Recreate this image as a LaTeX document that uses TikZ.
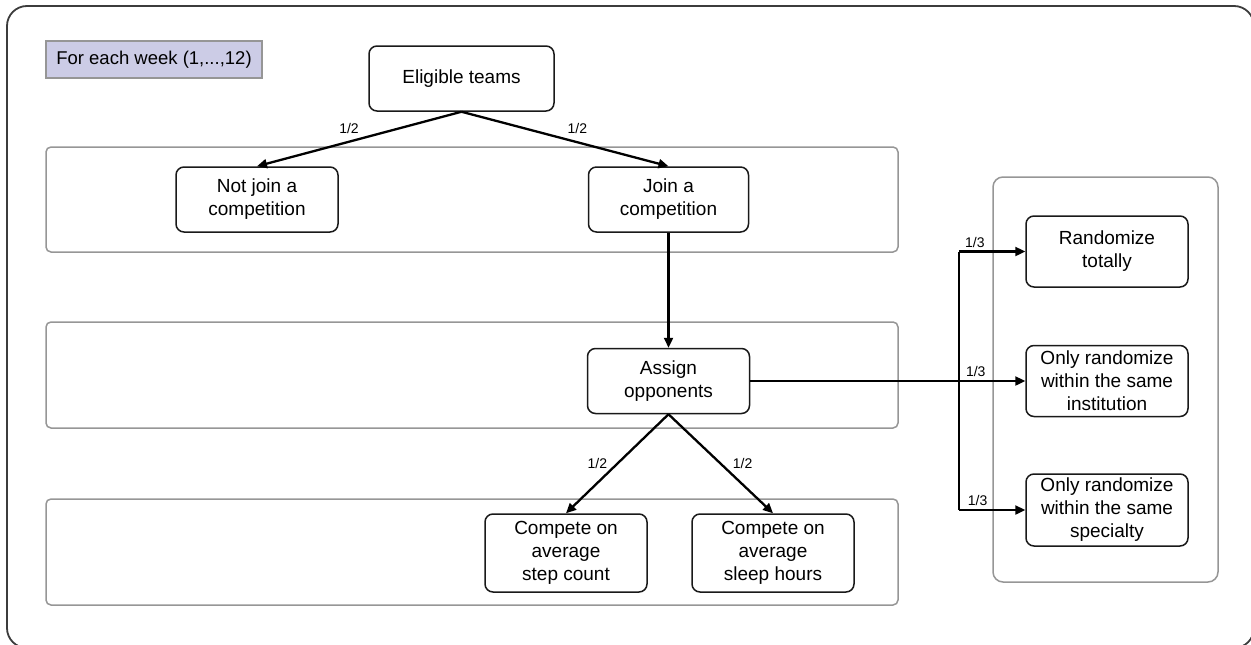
\documentclass[tikz,border=0pt]{standalone}
\usepackage{fontspec}
\setmainfont{Liberation Sans}
\usetikzlibrary{arrows.meta}
\definecolor{lanegray}{RGB}{150,150,150}
\definecolor{framegray}{RGB}{60,60,60}
\definecolor{legendfill}{RGB}{204,204,230}
\begin{document}
\begin{tikzpicture}[x=1pt,y=-1pt,
  box/.style={draw=black!90,line width=1.5pt,rounded corners=8pt,align=center,
    inner sep=0pt,font=\fontsize{19}{23}\selectfont},
  lane/.style={draw=lanegray,line width=1.5pt,rounded corners=5pt,inner sep=0pt},
  conn/.style={line width=2.3pt,-{Triangle[length=10pt,width=9pt]}},
  plainconn/.style={line width=2.3pt},
  lbl/.style={font=\fontsize{14}{16}\selectfont,inner sep=0pt}]
\useasboundingbox (0,0) rectangle (1251,645);
% outer frame
\draw[framegray,line width=1.8pt,rounded corners=20pt] (7,6) rectangle (1254,648);
% legend
\node[draw=lanegray,fill=legendfill,line width=1.3pt,minimum width=216pt,minimum height=37pt,
  inner sep=0pt,font=\fontsize{18.5}{22}\selectfont] (legend) at (154,59.5) {For each week (1,...,12)};
% lanes
\node[lane,minimum width=852pt,minimum height=105pt] (lane1) at (472,199.5) {};
\node[lane,minimum width=852pt,minimum height=106pt] (lane2) at (472,375) {};
\node[lane,minimum width=852pt,minimum height=106pt] (lane3) at (472,552) {};
\node[lane,rounded corners=10pt,minimum width=225pt,minimum height=405pt] (cont) at (1105.5,379.5) {};
% boxes
\node[box,minimum width=185pt,minimum height=65pt] (elig) at (461.5,78.5) {Eligible teams};
\node[box,minimum width=162pt,minimum height=65pt] (notjoin) at (257,199.5) {Not join a\\competition};
\node[box,minimum width=160pt,minimum height=65pt] (join) at (668.5,199.5) {Join a\\competition};
\node[box,minimum width=162pt,minimum height=65pt] (assign) at (668.5,381) {Assign\\opponents};
\node[box,minimum width=162pt,minimum height=78pt] (step) at (566,553) {Compete on\\average\\step count};
\node[box,minimum width=162pt,minimum height=78pt] (sleep) at (773,553) {Compete on\\average\\sleep hours};
\node[box,minimum width=162pt,minimum height=71pt] (rand) at (1107,251.5) {Randomize\\totally};
\node[box,minimum width=162pt,minimum height=71pt] (inst) at (1107,381) {Only randomize\\within the same\\institution};
\node[box,minimum width=162pt,minimum height=72pt] (spec) at (1107,510) {Only randomize\\within the same\\specialty};
% connectors
\draw[conn] (elig.south) -- node[lbl,pos=0.55,above=7pt]{1/2} (notjoin.north);
\draw[conn] (elig.south) -- node[lbl,pos=0.56,above=7pt]{1/2} (join.north);
\draw[conn] (join.south) -- (assign.north);
\draw[conn] (assign.south) -- node[lbl,pos=0.5,left=9pt]{1/2} (step.north);
\draw[conn] (assign.south) -- node[lbl,pos=0.5,right=11pt]{1/2} (sleep.north);
\coordinate (vx) at (959,381);
\coordinate (vtop) at (vx |- rand.west);
\coordinate (vbot) at (vx |- spec.west);
\draw[plainconn] (vtop) -- (vbot);
\draw[conn] (assign.east) -- node[lbl,pos=0.82,above=3pt]{1/3} (inst.west);
\draw[conn] (vtop) -- node[lbl,pos=0.24,above=3pt]{1/3} (rand.west);
\draw[conn] (vbot) -- node[lbl,pos=0.28,above=3pt]{1/3} (spec.west);
\end{tikzpicture}
\end{document}
